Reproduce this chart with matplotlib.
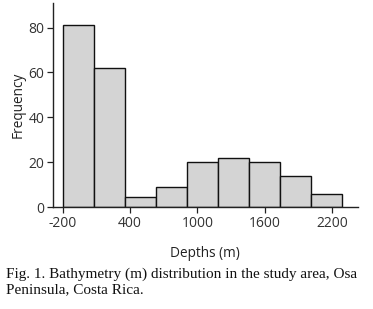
import matplotlib.pyplot as plt

plt.rcParams['axes.unicode_minus'] = False

# Histogram of depths (bin edges and counts)
bin_edges = [-200, 77, 353, 630, 907, 1183, 1460, 1737, 2013, 2290]
counts = [81, 62, 4.5, 9, 20, 22, 20, 14, 6]
x_ticks = [-200, 400, 1000, 1600, 2200]
y_ticks = [0, 20, 40, 60, 80]

fig = plt.figure(figsize=(3.73, 3.09), dpi=100)
ax = fig.add_axes([0.1413, 0.329, 0.8177, 0.662])

widths = [bin_edges[i + 1] - bin_edges[i] for i in range(len(counts))]
ax.bar(bin_edges[:-1], counts, width=widths, align='edge',
       color='#d4d4d4', edgecolor='#111111', linewidth=1.0)

ax.set_xlim(-289, 2429)
ax.set_ylim(0, 91)
ax.set_xticks(x_ticks)
ax.set_yticks(y_ticks)
ax.spines['top'].set_visible(False)
ax.spines['right'].set_visible(False)
for s in ['left', 'bottom']:
    ax.spines[s].set_linewidth(1.0)
    ax.spines[s].set_color('#222222')
ax.tick_params(length=4, width=0.9, color='#222222', labelcolor='#333333',
               labelsize=10, pad=2)
for lab in ax.get_xticklabels() + ax.get_yticklabels():
    lab.set_family('Open Sans')

ax.set_xlabel('Depths (m)', family='Open Sans', fontsize=9.8, color='#222222', labelpad=11)
ax.set_ylabel('Frequency', family='Open Sans', fontsize=9.8, color='#222222', labelpad=2)

fig.text(0.016, 0.111, 'Fig. 1. Bathymetry (m) distribution in the study area, Osa',
         family='Liberation Serif', fontsize=11, color='#111111', va='center')
fig.text(0.016, 0.062, 'Peninsula, Costa Rica.',
         family='Liberation Serif', fontsize=11, color='#111111', va='center')

fig.savefig('out.png', dpi=100)
